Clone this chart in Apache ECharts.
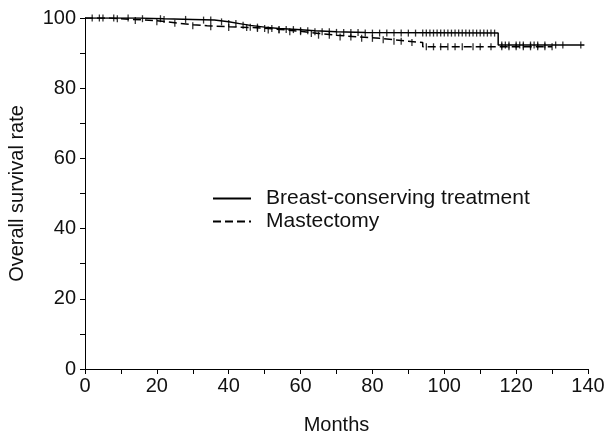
<!DOCTYPE html>
<html><head><meta charset="utf-8">
<script src="https://cdn.jsdelivr.net/npm/echarts@6/dist/echarts.min.js"></script>
<style>html,body{margin:0;padding:0;background:#fff}#c{width:608px;height:436px}</style>
</head><body><div id="c"></div>
<script>
var seriesNames = ['Breast-conserving treatment', 'Mastectomy'];
var xTicks = [0, 20, 40, 60, 80, 100, 120, 140];
var yTicks = [0, 20, 40, 60, 80, 100];
// Kaplan-Meier steps [month, survival %]
var bctSteps = [[0,100],[15,99.8],[22,99.6],[30,99.4],[36,98.9],[40,98.4],[43,97.9],[46,97.4],[50,97.0],[54,96.7],[59,96.4],[64,96.1],[70,95.9],[78,95.7],[115,92.3],[139,92.3]];
var mastSteps = [[0,100],[7,99.8],[10,99.6],[13,99.3],[19,98.9],[23,98.5],[26,98.1],[30,97.8],[34,97.5],[40,97.3],[46,97.0],[51,96.6],[56,96.1],[61,95.6],[65,95.1],[70,94.6],[76,94.2],[82,93.8],[86,93.4],[90,93.0],[94,91.8],[130,91.8]];
// censoring times (months)
var bctCensor = [2,5,8,12,16,21,22,28,33,35,38,40,42,44,46,48,50,52,54,56,58,60,62,64,66,68,70,72,74,76,78,80,82,84,86,88,90,92,94,95,96,97,98,99,100,101,102,103,104,105,106,107,108,109,110,111,112,113,114,116,117,118,120,121,122,124,125,126,128,131,133,138];
var mastCensor = [4,9,14,20,25,30,35,40,45,48,51,54,57,60,63,65,68,71,74,77,80,83,86,88,91,95,97,99,101,103,105,108,110,113,116,118,120,122,124,126,128,130];

function survAt(steps, t) {
  var v = steps[0][1];
  for (var i = 0; i < steps.length; i++) { if (steps[i][0] <= t) v = steps[i][1]; }
  return v;
}
function marks(steps, times) { return times.map(function (t) { return [t, survAt(steps, t)]; }); }

var font = 'Liberation Sans, Arial, sans-serif';
var chart = echarts.init(document.getElementById('c'), null, {renderer: 'canvas'});
chart.setOption({
  animation: false,
  backgroundColor: '#fff',
  grid: {left: 85, right: 20, top: 18, bottom: 67, containLabel: false, outerBoundsMode: 'none'},
  legend: {
    data: seriesNames,
    orient: 'vertical',
    left: 212, top: 188, padding: 0,
    itemWidth: 38, itemHeight: 14, itemGap: 2,
    itemStyle: {opacity: 0},
    textStyle: {fontFamily: font, fontSize: 21, lineHeight: 21, color: '#111', padding: [0,0,0,10]}
  },
  xAxis: {
    type: 'value', min: 0, max: 140, interval: 20,
    name: 'Months', nameLocation: 'middle', nameGap: 46,
    nameTextStyle: {fontFamily: font, fontSize: 20, color: '#111'},
    axisLine: {lineStyle: {color: '#000', width: 1}},
    axisTick: {show: true, length: 5, lineStyle: {color: '#000'}},
    minorTick: {show: true, splitNumber: 2, length: 5, lineStyle: {color: '#000'}},
    splitLine: {show: false},
    axisLabel: {fontFamily: font, fontSize: 20, color: '#111', margin: 7,
      formatter: function (v) { return xTicks.indexOf(v) >= 0 ? String(v) : ''; }}
  },
  yAxis: {
    type: 'value', min: 0, max: 100, interval: 20,
    name: 'Overall survival rate', nameLocation: 'middle', nameGap: 58,
    nameTextStyle: {fontFamily: font, fontSize: 20, color: '#111'},
    axisLine: {show: true, lineStyle: {color: '#000', width: 1}},
    axisTick: {show: true, length: 5, lineStyle: {color: '#000'}},
    minorTick: {show: true, splitNumber: 2, length: 5, lineStyle: {color: '#000'}},
    splitLine: {show: false},
    axisLabel: {fontFamily: font, fontSize: 20, color: '#111', margin: 9,
      formatter: function (v) { return yTicks.indexOf(v) >= 0 ? String(v) : ''; }}
  },
  series: [
    {name: seriesNames[0], type: 'line', step: 'end', data: bctSteps, symbol: 'none',
     lineStyle: {color: '#000', width: 1.5, type: 'solid'}, itemStyle: {color: '#000'}},
    {name: seriesNames[1], type: 'line', step: 'end', data: mastSteps, symbol: 'none',
     lineStyle: {color: '#000', width: 1.5, type: [8, 4]}, itemStyle: {color: '#000'}},
    {type: 'scatter', data: marks(bctSteps, bctCensor), symbol: 'rect', symbolSize: [1.3, 7],
     itemStyle: {color: '#000'}, silent: true},
    {type: 'scatter', data: marks(mastSteps, mastCensor), symbol: 'rect', symbolSize: [1.3, 7],
     itemStyle: {color: '#000'}, silent: true}
  ]
});
</script></body></html>
